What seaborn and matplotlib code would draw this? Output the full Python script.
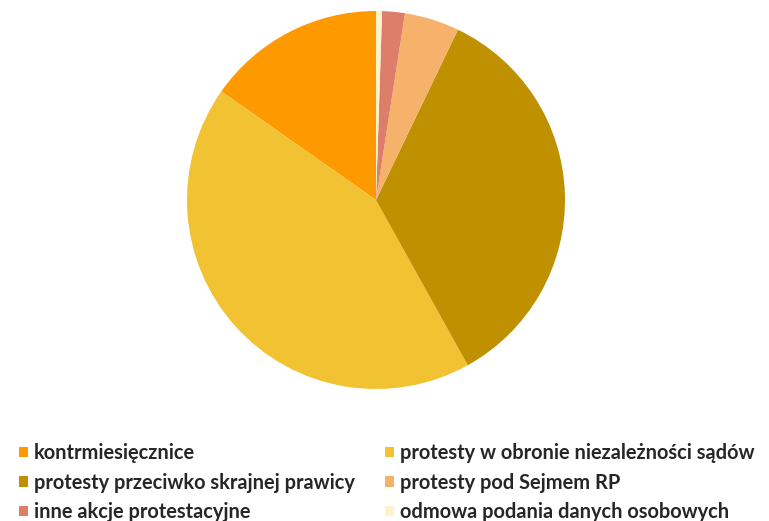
import matplotlib
matplotlib.use("Agg")
import matplotlib.pyplot as plt
import seaborn as sns
from matplotlib.patches import Patch

categories = [
    "kontrmiesięcznice",
    "protesty w obronie niezależności sądów",
    "protesty przeciwko skrajnej prawicy",
    "protesty pod Sejmem RP",
    "inne akcje protestacyjne",
    "odmowa podania danych osobowych",
]
values = [15.26, 42.81, 34.79, 4.69, 1.94, 0.51]
colors = ["#FF9900", "#F1C232", "#BF9000", "#F6B26B", "#DD7E6B", "#FFF2CC"]

sns.set_theme(style="white")
plt.rcParams['font.family'] = ['Lato', 'DejaVu Sans']

W, H = 769, 521
fig = plt.figure(figsize=(W / 100, H / 100), dpi=100)
cx, cy, r = 376, 200, 189
ax = fig.add_axes([(cx - r) / W, (H - cy - r) / H, 2 * r / W, 2 * r / H])
palette = sns.color_palette(colors)
ax.pie(values, colors=palette, startangle=90, counterclock=True,
       wedgeprops=dict(linewidth=0))
ax.set_xlim(-1, 1)
ax.set_ylim(-1, 1)
ax.set_aspect("equal")
ax.axis("off")

order = [0, 2, 4, 1, 3, 5]
handles = [Patch(facecolor=palette[i], edgecolor="none") for i in order]
labels = [categories[i] for i in order]
fig.legend(handles, labels, ncol=2, loc="upper left",
           bbox_to_anchor=(19 / W, 1 - 443 / H), frameon=False,
           prop=dict(family=['Lato', 'DejaVu Sans'], weight='bold', size=14.4),
           handlelength=0.45, handleheight=0.45, handletextpad=0.3,
           columnspacing=1.5, labelspacing=0.48, borderpad=0, borderaxespad=0)

fig.savefig("out.png", dpi=100)
